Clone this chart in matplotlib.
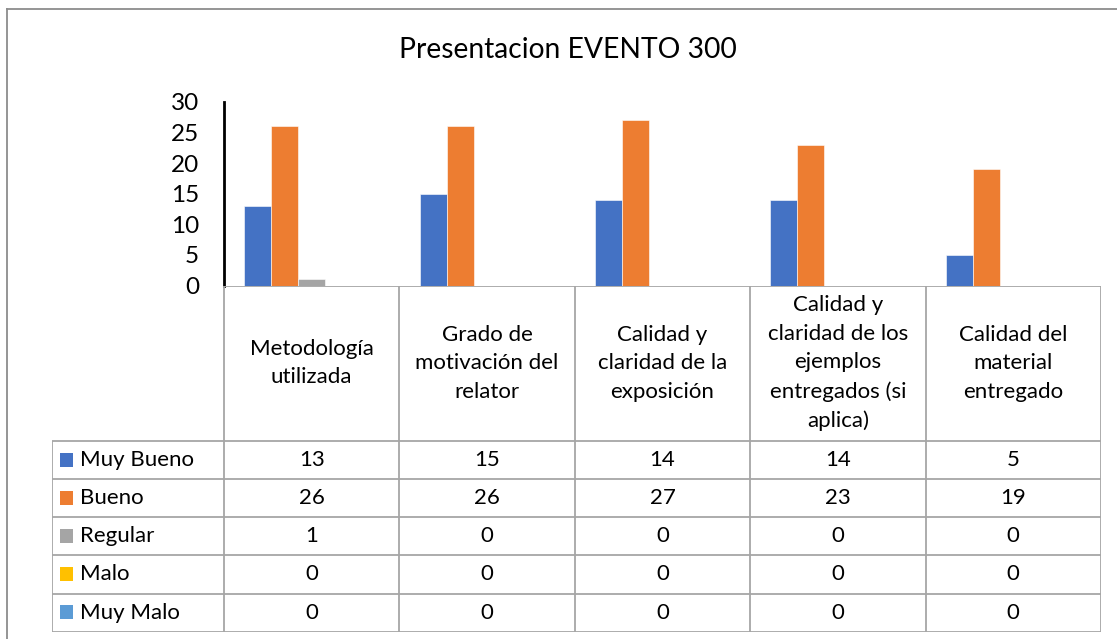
import numpy as np
import matplotlib
matplotlib.use("Agg")
import matplotlib.pyplot as plt
from matplotlib.lines import Line2D
from matplotlib.patches import Rectangle

plt.rcParams["font.family"] = ["Lato", "DejaVu Sans"]

# data
categorias = ["Metodología\nutilizada",
              "Grado de\nmotivación del\nrelator",
              "Calidad y\nclaridad de la\nexposición",
              "Calidad y\nclaridad de los\nejemplos\nentregados (si\naplica)",
              "Calidad del\nmaterial\nentregado"]
series = ["Muy Bueno", "Bueno", "Regular", "Malo", "Muy Malo"]
muy_bueno = [13, 15, 14, 14, 5]
bueno = [26, 26, 27, 23, 19]
regular = [1, 0, 0, 0, 0]
malo = [0, 0, 0, 0, 0]
muy_malo = [0, 0, 0, 0, 0]
valores = [muy_bueno, bueno, regular, malo, muy_malo]
colores = ["#4472C4", "#ED7D31", "#A5A5A5", "#FFC000", "#5B9BD5"]
titulo = "Presentacion EVENTO 300"

W, H = 1117, 639
fig = plt.figure(figsize=(W / 100, H / 100), dpi=100)

def fx(px):
    return px / W

def fy(py):
    return 1 - py / H

grid_col = "#A6A6A6"

# pixel layout
x_ax0, x_ax1 = 224, 1101
y_top, y_zero = 102, 285.5
x_leg = 52
y_tab_bot = 631.7

# bar chart
ax = fig.add_axes([fx(x_ax0), fy(y_zero), fx(x_ax1 - x_ax0), (y_zero - y_top) / H])
n = len(categorias)
x = np.arange(n)
w = 0.154
for j, (s, v, c) in enumerate(zip(series, valores, colores)):
    ax.bar(x + (j - 2) * w, v, width=w, color=c, edgecolor="white", linewidth=0.4)
ax.set_xlim(-0.5, n - 0.5)
ax.set_ylim(0, 30)
ax.set_yticks(range(0, 31, 5))
ax.tick_params(axis="y", length=0, pad=18, labelsize=17.5)
ax.set_xticks([])
for sp in ["top", "right", "bottom"]:
    ax.spines[sp].set_visible(False)
ax.spines["left"].set_linewidth(2)
ax.spines["left"].set_color("black")
ax.patch.set_alpha(0)

# data table
nrows = len(series)
row_h = 38.2
head_h = (440.7 - y_zero) / row_h
tab = fig.add_axes([fx(x_leg), fy(y_tab_bot), fx(x_ax1 - x_leg), (y_tab_bot - y_zero) / H])
cell_w = (x_ax1 - x_ax0) / n
leg_w = (x_ax0 - x_leg) / cell_w
tab.set_xlim(-0.5 - leg_w, n - 0.5)
tab.set_ylim(head_h + nrows, 0)
tab.axis("off")

lw = 1.3
# horizontal lines
tab.plot([-0.5, n - 0.5], [0, 0], color=grid_col, lw=lw, solid_capstyle="butt")
for r in range(nrows + 1):
    tab.plot([-0.5 - leg_w, n - 0.5], [head_h + r, head_h + r], color=grid_col, lw=lw,
             solid_capstyle="butt")
# vertical lines
for k in range(n + 1):
    tab.plot([k - 0.5, k - 0.5], [0, head_h + nrows], color=grid_col, lw=lw, solid_capstyle="butt")
tab.plot([-0.5 - leg_w, -0.5 - leg_w], [head_h, head_h + nrows], color=grid_col, lw=lw,
         solid_capstyle="butt")

# header texts
for k, cat in enumerate(categorias):
    tab.text(k, head_h / 2, cat, ha="center", va="center", fontsize=16, linespacing=1.53)

# rows
sq = 13 / cell_w
for r, (s, v, c) in enumerate(zip(series, valores, colores)):
    yc = head_h + r + 0.5
    tab.add_patch(Rectangle((-0.5 - leg_w + 8 / cell_w, yc - 0.19), sq, 0.37,
                            facecolor=c, edgecolor="none"))
    tab.text(-0.5 - leg_w + 28 / cell_w, yc, s, ha="left", va="center", fontsize=16)
    for k, val in enumerate(v):
        tab.text(k, yc, str(val), ha="center", va="center", fontsize=16)

# title
fig.text(fx(568), fy(50), titulo, ha="center", va="center", fontsize=20.3)

# outer border
fig.add_artist(Line2D([fx(7), fx(7)], [fy(9), 0], color="#8C8C8C", lw=1.3))
fig.add_artist(Line2D([fx(7), 1], [fy(9), fy(9)], color="#8C8C8C", lw=1.3))

fig.savefig("out.png", dpi=100)
